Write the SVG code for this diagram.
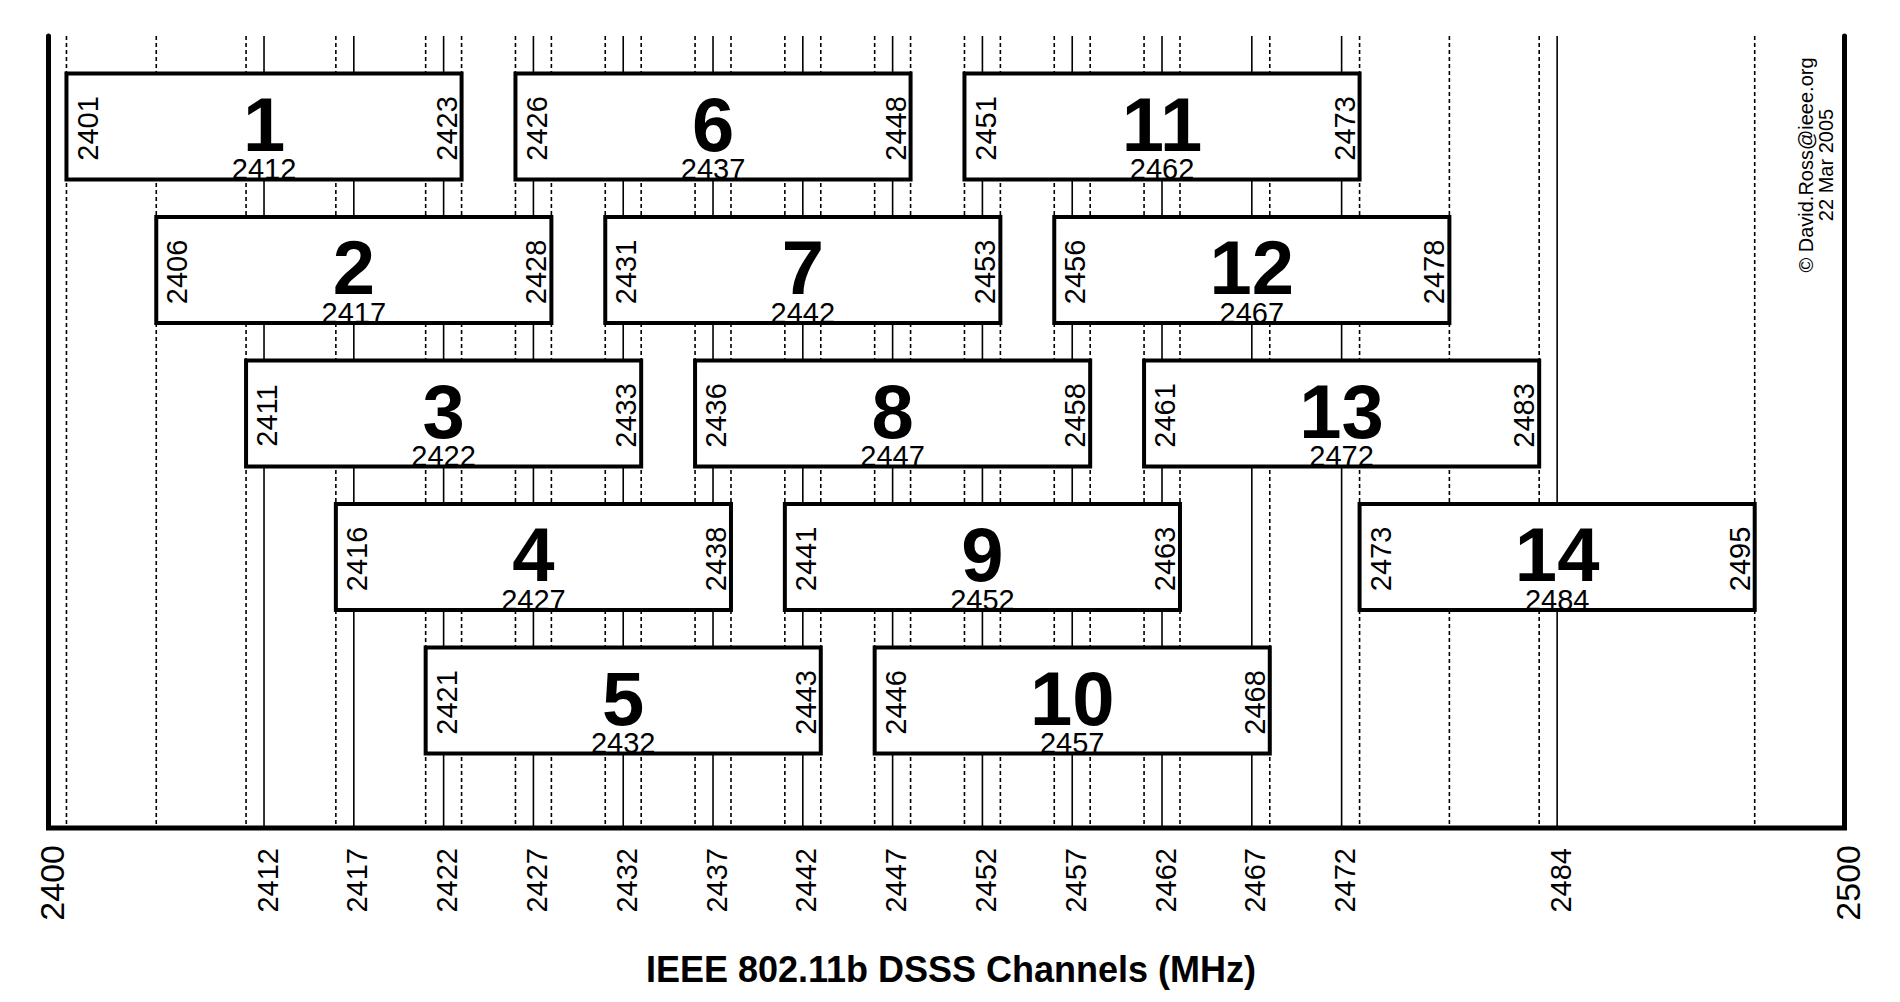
<svg xmlns="http://www.w3.org/2000/svg" width="1900" height="1002" viewBox="0 0 1900 1002">
<style>
text{font-family:"Liberation Sans",Arial,sans-serif;fill:#000}
.big{font-size:76px;font-weight:bold;text-anchor:middle}
.mid{font-size:29px;text-anchor:middle}
.side{font-size:29px;text-anchor:middle}
.ax{font-size:29px;text-anchor:end}
.axb{font-size:34px;text-anchor:end}
.title{font-size:36px;font-weight:bold;text-anchor:middle}
.copy{font-size:20px;text-anchor:middle}
.box{fill:#fff;stroke:#000;stroke-width:4}
.solid{stroke:#000;stroke-width:1.6;fill:none}
.dash{stroke:#000;stroke-width:1.6;stroke-dasharray:4 3;fill:none}
.axis{stroke:#000;stroke-width:5;fill:none;stroke-linecap:round;stroke-linejoin:miter}
</style>
<rect width="1900" height="1002" fill="#fff"/>
<g id="connectors">
<g id="center-lines">
<line class="solid" x1="264.02" y1="36" x2="264.02" y2="828"/>
<line class="solid" x1="353.82" y1="36" x2="353.82" y2="828"/>
<line class="solid" x1="443.62" y1="36" x2="443.62" y2="828"/>
<line class="solid" x1="533.42" y1="36" x2="533.42" y2="828"/>
<line class="solid" x1="623.22" y1="36" x2="623.22" y2="828"/>
<line class="solid" x1="713.02" y1="36" x2="713.02" y2="828"/>
<line class="solid" x1="802.82" y1="36" x2="802.82" y2="828"/>
<line class="solid" x1="892.62" y1="36" x2="892.62" y2="828"/>
<line class="solid" x1="982.42" y1="36" x2="982.42" y2="828"/>
<line class="solid" x1="1072.22" y1="36" x2="1072.22" y2="828"/>
<line class="solid" x1="1162.02" y1="36" x2="1162.02" y2="828"/>
<line class="solid" x1="1251.82" y1="36" x2="1251.82" y2="828"/>
<line class="solid" x1="1341.62" y1="36" x2="1341.62" y2="828"/>
<line class="solid" x1="1557.14" y1="36" x2="1557.14" y2="828"/>
</g>
<g id="edge-lines">
<line class="dash" x1="66.46" y1="36" x2="66.46" y2="828"/>
<line class="dash" x1="156.26" y1="36" x2="156.26" y2="828"/>
<line class="dash" x1="246.06" y1="36" x2="246.06" y2="828"/>
<line class="dash" x1="335.86" y1="36" x2="335.86" y2="828"/>
<line class="dash" x1="425.66" y1="36" x2="425.66" y2="828"/>
<line class="dash" x1="461.58" y1="36" x2="461.58" y2="828"/>
<line class="dash" x1="515.46" y1="36" x2="515.46" y2="828"/>
<line class="dash" x1="551.38" y1="36" x2="551.38" y2="828"/>
<line class="dash" x1="605.26" y1="36" x2="605.26" y2="828"/>
<line class="dash" x1="641.18" y1="36" x2="641.18" y2="828"/>
<line class="dash" x1="695.06" y1="36" x2="695.06" y2="828"/>
<line class="dash" x1="730.98" y1="36" x2="730.98" y2="828"/>
<line class="dash" x1="784.86" y1="36" x2="784.86" y2="828"/>
<line class="dash" x1="820.78" y1="36" x2="820.78" y2="828"/>
<line class="dash" x1="874.66" y1="36" x2="874.66" y2="828"/>
<line class="dash" x1="910.58" y1="36" x2="910.58" y2="828"/>
<line class="dash" x1="964.46" y1="36" x2="964.46" y2="828"/>
<line class="dash" x1="1000.38" y1="36" x2="1000.38" y2="828"/>
<line class="dash" x1="1054.26" y1="36" x2="1054.26" y2="828"/>
<line class="dash" x1="1090.18" y1="36" x2="1090.18" y2="828"/>
<line class="dash" x1="1144.06" y1="36" x2="1144.06" y2="828"/>
<line class="dash" x1="1179.98" y1="36" x2="1179.98" y2="828"/>
<line class="dash" x1="1269.78" y1="36" x2="1269.78" y2="828"/>
<line class="dash" x1="1359.58" y1="36" x2="1359.58" y2="828"/>
<line class="dash" x1="1449.38" y1="36" x2="1449.38" y2="828"/>
<line class="dash" x1="1539.18" y1="36" x2="1539.18" y2="828"/>
<line class="dash" x1="1754.70" y1="36" x2="1754.70" y2="828"/>
</g>
<path id="axis" class="axis" d="M48.5,36 V828 H1844.5 V36"/>
</g>
<g id="axis-labels">
<text class="axb" transform="translate(63.5,845) rotate(-90)">2400</text>
<text class="ax" transform="translate(277.5,848) rotate(-90)">2412</text>
<text class="ax" transform="translate(367.3,848) rotate(-90)">2417</text>
<text class="ax" transform="translate(457.1,848) rotate(-90)">2422</text>
<text class="ax" transform="translate(546.9,848) rotate(-90)">2427</text>
<text class="ax" transform="translate(636.7,848) rotate(-90)">2432</text>
<text class="ax" transform="translate(726.5,848) rotate(-90)">2437</text>
<text class="ax" transform="translate(816.3,848) rotate(-90)">2442</text>
<text class="ax" transform="translate(906.1,848) rotate(-90)">2447</text>
<text class="ax" transform="translate(995.9,848) rotate(-90)">2452</text>
<text class="ax" transform="translate(1085.7,848) rotate(-90)">2457</text>
<text class="ax" transform="translate(1175.5,848) rotate(-90)">2462</text>
<text class="ax" transform="translate(1265.3,848) rotate(-90)">2467</text>
<text class="ax" transform="translate(1355.1,848) rotate(-90)">2472</text>
<text class="ax" transform="translate(1570.6,848) rotate(-90)">2484</text>
<text class="axb" transform="translate(1859.5,845) rotate(-90)">2500</text>
</g>
<g id="ch1"><rect class="box" x="66.46" y="73.5" width="395.12" height="106"/>
<text class="big" x="264.02" y="150.5">1</text><text class="mid" x="264.02" y="179">2412</text>
<text class="side" transform="translate(97.5,128.5) rotate(-90)">2401</text><text class="side" transform="translate(456.6,128.5) rotate(-90)">2423</text></g>
<g id="ch6"><rect class="box" x="515.46" y="73.5" width="395.12" height="106"/>
<text class="big" x="713.02" y="150.5">6</text><text class="mid" x="713.02" y="179">2437</text>
<text class="side" transform="translate(546.5,128.5) rotate(-90)">2426</text><text class="side" transform="translate(905.6,128.5) rotate(-90)">2448</text></g>
<g id="ch11"><rect class="box" x="964.46" y="73.5" width="395.12" height="106"/>
<text class="big" x="1162.02" y="150.5">11</text><text class="mid" x="1162.02" y="179">2462</text>
<text class="side" transform="translate(995.5,128.5) rotate(-90)">2451</text><text class="side" transform="translate(1354.6,128.5) rotate(-90)">2473</text></g>
<g id="ch2"><rect class="box" x="156.26" y="217" width="395.12" height="106"/>
<text class="big" x="353.82" y="294">2</text><text class="mid" x="353.82" y="322.5">2417</text>
<text class="side" transform="translate(187.3,272) rotate(-90)">2406</text><text class="side" transform="translate(546.4,272) rotate(-90)">2428</text></g>
<g id="ch7"><rect class="box" x="605.26" y="217" width="395.12" height="106"/>
<text class="big" x="802.82" y="294">7</text><text class="mid" x="802.82" y="322.5">2442</text>
<text class="side" transform="translate(636.3,272) rotate(-90)">2431</text><text class="side" transform="translate(995.4,272) rotate(-90)">2453</text></g>
<g id="ch12"><rect class="box" x="1054.26" y="217" width="395.12" height="106"/>
<text class="big" x="1251.82" y="294">12</text><text class="mid" x="1251.82" y="322.5">2467</text>
<text class="side" transform="translate(1085.3,272) rotate(-90)">2456</text><text class="side" transform="translate(1444.4,272) rotate(-90)">2478</text></g>
<g id="ch3"><rect class="box" x="246.06" y="360.5" width="395.12" height="106"/>
<text class="big" x="443.62" y="437.5">3</text><text class="mid" x="443.62" y="466">2422</text>
<text class="side" transform="translate(277.1,415.5) rotate(-90)">2411</text><text class="side" transform="translate(636.2,415.5) rotate(-90)">2433</text></g>
<g id="ch8"><rect class="box" x="695.06" y="360.5" width="395.12" height="106"/>
<text class="big" x="892.62" y="437.5">8</text><text class="mid" x="892.62" y="466">2447</text>
<text class="side" transform="translate(726.1,415.5) rotate(-90)">2436</text><text class="side" transform="translate(1085.2,415.5) rotate(-90)">2458</text></g>
<g id="ch13"><rect class="box" x="1144.06" y="360.5" width="395.12" height="106"/>
<text class="big" x="1341.62" y="437.5">13</text><text class="mid" x="1341.62" y="466">2472</text>
<text class="side" transform="translate(1175.1,415.5) rotate(-90)">2461</text><text class="side" transform="translate(1534.2,415.5) rotate(-90)">2483</text></g>
<g id="ch4"><rect class="box" x="335.86" y="504" width="395.12" height="106"/>
<text class="big" x="533.42" y="581">4</text><text class="mid" x="533.42" y="609.5">2427</text>
<text class="side" transform="translate(366.9,559) rotate(-90)">2416</text><text class="side" transform="translate(726,559) rotate(-90)">2438</text></g>
<g id="ch9"><rect class="box" x="784.86" y="504" width="395.12" height="106"/>
<text class="big" x="982.42" y="581">9</text><text class="mid" x="982.42" y="609.5">2452</text>
<text class="side" transform="translate(815.9,559) rotate(-90)">2441</text><text class="side" transform="translate(1175,559) rotate(-90)">2463</text></g>
<g id="ch14"><rect class="box" x="1359.58" y="504" width="395.12" height="106"/>
<text class="big" x="1557.14" y="581">14</text><text class="mid" x="1557.14" y="609.5">2484</text>
<text class="side" transform="translate(1390.6,559) rotate(-90)">2473</text><text class="side" transform="translate(1749.7,559) rotate(-90)">2495</text></g>
<g id="ch5"><rect class="box" x="425.66" y="647.5" width="395.12" height="106"/>
<text class="big" x="623.22" y="724.5">5</text><text class="mid" x="623.22" y="753">2432</text>
<text class="side" transform="translate(456.7,702.5) rotate(-90)">2421</text><text class="side" transform="translate(815.8,702.5) rotate(-90)">2443</text></g>
<g id="ch10"><rect class="box" x="874.66" y="647.5" width="395.12" height="106"/>
<text class="big" x="1072.22" y="724.5">10</text><text class="mid" x="1072.22" y="753">2457</text>
<text class="side" transform="translate(905.7,702.5) rotate(-90)">2446</text><text class="side" transform="translate(1264.8,702.5) rotate(-90)">2468</text></g>
<g id="copyright">
<text class="copy" transform="translate(1813,165) rotate(-90)">© David.Ross@ieee.org</text>
<text class="copy" transform="translate(1833,165) rotate(-90)">22 Mar 2005</text>
</g>
<text id="title" class="title" x="951" y="982">IEEE 802.11b DSSS Channels (MHz)</text>
</svg>
